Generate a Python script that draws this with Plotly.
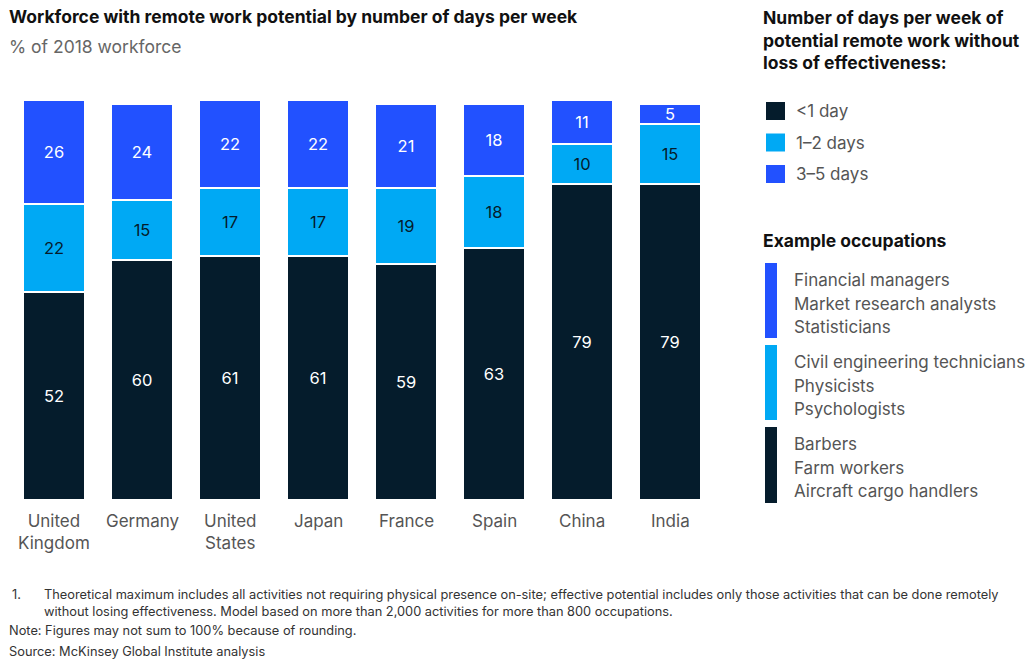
import plotly.graph_objects as go

countries = ["United<br>Kingdom", "Germany", "United<br>States", "Japan", "France", "Spain", "China", "India"]
under_1_day = [52, 60, 61, 61, 59, 63, 79, 79]
days_1_2 = [22, 15, 17, 17, 19, 18, 10, 15]
days_3_5 = [26, 24, 22, 22, 21, 18, 11, 5]

series_names = ["<1 day", "1–2 days", "3–5 days"]
series_values = [under_1_day, days_1_2, days_3_5]
series_colors = ["#051C2C", "#00A9F4", "#2251FF"]
text_colors = ["#FFFFFF", "#051C2C", "#FFFFFF"]

occupation_groups = [
    ["Financial managers", "Market research analysts", "Statisticians"],
    ["Civil engineering technicians", "Physicists", "Psychologists"],
    ["Barbers", "Farm workers", "Aircraft cargo handlers"],
]
occupation_colors = ["#2251FF", "#00A9F4", "#051C2C"]

FONT = "Inter, Arial, sans-serif"
BOLD_SIZE = 17.5
BODY_SIZE = 17
FOOT_SIZE = 12.8

fig = go.Figure()
for name, vals, col, tcol in zip(series_names, series_values, series_colors, text_colors):
    fig.add_trace(go.Bar(
        x=list(range(len(countries))), y=vals, name=name,
        marker=dict(color=col, line=dict(color="white", width=1.2)),
        text=[str(v) for v in vals], textposition="inside",
        insidetextanchor="middle", textangle=0,
        textfont=dict(color=tcol, size=16.5, family=FONT),
        showlegend=False, hoverinfo="x+y+name",
    ))

W, H = 1035, 661
L, R, T, B = 10, 321, 100, 161

fig.update_layout(
    barmode="stack", bargap=0.31,
    width=W, height=H,
    margin=dict(l=L, r=R, t=T, b=B),
    paper_bgcolor="white", plot_bgcolor="white",
    font=dict(family=FONT, color="#333"),
    uniformtext=dict(minsize=15, mode="show"),
    xaxis=dict(range=[-0.5, 7.5], showgrid=False, zeroline=False,
               showticklabels=False, showline=False, fixedrange=True),
    yaxis=dict(range=[0, 100], showgrid=False, zeroline=False,
               showticklabels=False, showline=False, fixedrange=True),
)

ann = []
shapes = []

# Category labels under bars
for i, c in enumerate(countries):
    ann.append(dict(x=i, y=0, xref="x", yref="y", yanchor="top", xanchor="center",
                    yshift=-9, text=c, showarrow=False,
                    font=dict(size=BODY_SIZE, color="#555", family=FONT)))

# Pixel positions are mapped relative to the plot area
def px_to_paper(xp, yp):
    return (xp - L) / (W - L - R), (H - B - yp) / (H - T - B)

def pa(xp, yp, text, size, color, bold=False):
    x, y = px_to_paper(xp, yp)
    ann.append(dict(x=x, y=y, xref="paper", yref="paper",
                    xanchor="left", yanchor="middle", showarrow=False,
                    text=f"<b>{text}</b>" if bold else text, align="left",
                    font=dict(size=size, color=color, family=FONT)))

def rect(x0, y0, x1, y1, color):
    a0, b0 = px_to_paper(x0, y0)
    a1, b1 = px_to_paper(x1, y1)
    shapes.append(dict(type="rect", xref="paper", yref="paper",
                       x0=a0, y0=b1, x1=a1, y1=b0,
                       fillcolor=color, line=dict(width=0)))

# Title and subtitle
pa(7, 16, "Workforce with remote work potential by number of days per week", BOLD_SIZE, "#111", bold=True)
pa(7, 46, "% of 2018 workforce", BOLD_SIZE, "#666")

# Legend block
pa(761, 17, "Number of days per week of", BOLD_SIZE, "#111", bold=True)
pa(761, 40, "potential remote work without", BOLD_SIZE, "#111", bold=True)
pa(761, 63, "loss of effectiveness:", BOLD_SIZE, "#111", bold=True)
for k, (name, col) in enumerate(zip(series_names, series_colors)):
    yc = 111 + k * 31.5
    rect(766, yc - 9, 785, yc + 9, col)
    pa(794, yc, name, BODY_SIZE, "#555")

# Example occupations block
pa(761, 240, "Example occupations", BOLD_SIZE, "#111", bold=True)
bar_spans = [(263, 338), (345, 420), (427, 503)]
for g, (group, col, (y0, y1)) in enumerate(zip(occupation_groups, occupation_colors, bar_spans)):
    rect(765, y0, 777, y1, col)
    for j, occ in enumerate(group):
        pa(792, y0 + 17 + j * 23.5, occ, BODY_SIZE, "#555")

# Footnotes
pa(10, 594, "1.", FOOT_SIZE, "#333")
pa(42, 594, "Theoretical maximum includes all activities not requiring physical presence on-site; effective potential includes only those activities that can be done remotely", FOOT_SIZE, "#333")
pa(42, 611, "without losing effectiveness. Model based on more than 2,000 activities for more than 800 occupations.", FOOT_SIZE, "#333")
pa(7, 630, "Note: Figures may not sum to 100% because of rounding.", FOOT_SIZE, "#333")
pa(7, 651, "Source: McKinsey Global Institute analysis", FOOT_SIZE, "#333")

fig.update_layout(annotations=ann, shapes=shapes)
fig.write_html("out.html")
